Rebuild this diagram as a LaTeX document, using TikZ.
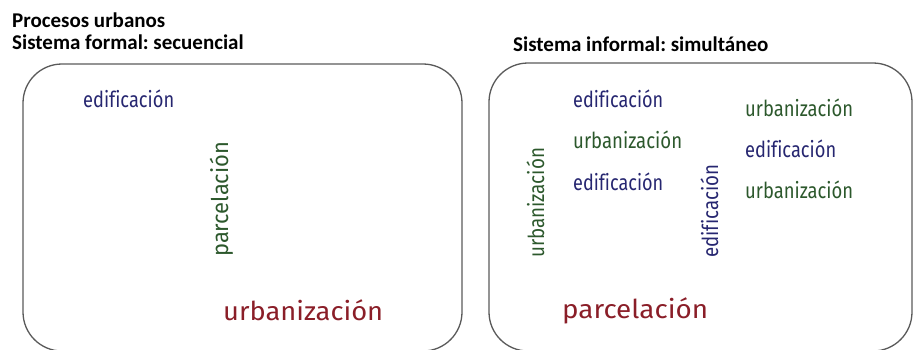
\documentclass[tikz,border=0pt]{standalone}
\usepackage{fontspec}
\usepackage{graphicx}
\setmainfont{Carlito}
\newfontfamily\wordfont[Ligatures=NoCommon]{Fira Sans}
\frenchspacing
\definecolor{navyw}{RGB}{38,38,112}
\definecolor{greenw}{RGB}{44,88,44}
\definecolor{redw}{RGB}{138,30,40}
\definecolor{boxgray}{RGB}{90,90,90}
\newcommand\fitword[3]{\setbox0\hbox{\wordfont\fontsize{#2}{#2}\selectfont #3}\scalebox{\fpeval{#1/\the\wd0}}[1]{\copy0}}
\tikzset{
  title/.style={anchor=base west, inner sep=0pt, font=\bfseries\fontsize{21}{21}\selectfont},
  word/.style={anchor=base west, inner sep=0pt},
  vword/.style={anchor=base west, inner sep=0pt, rotate=90},
  panel/.style={draw=boxgray, line width=1.3pt, rounded corners=39pt}
}
\begin{document}
\begin{tikzpicture}[x=1pt, y=-1pt]
\useasboundingbox (0,0) rectangle (914,349);
\clip (0,0) rectangle (914,349);
% titles
\node[title] (t1) at (12,27) {Procesos urbanos};
\node[title] (t2) at (12,49) {Sistema formal: secuencial};
\node[title] (t3) at (513,51) {Sistema informal: simultáneo};
% panels
\draw[panel] (23,64) rectangle (462,351);
\draw[panel] (489,63) rectangle (912,351);
% left panel
\node[word, text=navyw] (l1) at (83,107) {\fitword{91}{22}{edificación}};
\node[vword, text=greenw] (l2) at (228,257) {\fitword{115}{23}{parcelación}};
\node[word, text=redw] (l3) at (223,320) {\fitword{160}{26}{urbanización}};
% right panel
\node[word, text=navyw] (r1) at (573,107) {\fitword{90}{22}{edificación}};
\node[word, text=greenw] (r2) at (573,148) {\fitword{109}{22}{urbanización}};
\node[word, text=navyw] (r3) at (573,190) {\fitword{90}{22}{edificación}};
\node[vword, text=greenw] (r4) at (544,258) {\fitword{110}{22}{urbanización}};
\node[vword, text=navyw] (r5) at (718,258) {\fitword{93}{22}{edificación}};
\node[word, text=greenw] (r6) at (745,116) {\fitword{108}{22}{urbanización}};
\node[word, text=navyw] (r7) at (745,157) {\fitword{91}{22}{edificación}};
\node[word, text=greenw] (r8) at (745,198) {\fitword{108}{22}{urbanización}};
\node[word, text=redw] (r9) at (562,318) {\fitword{146}{26}{parcelación}};
\end{tikzpicture}
\end{document}
